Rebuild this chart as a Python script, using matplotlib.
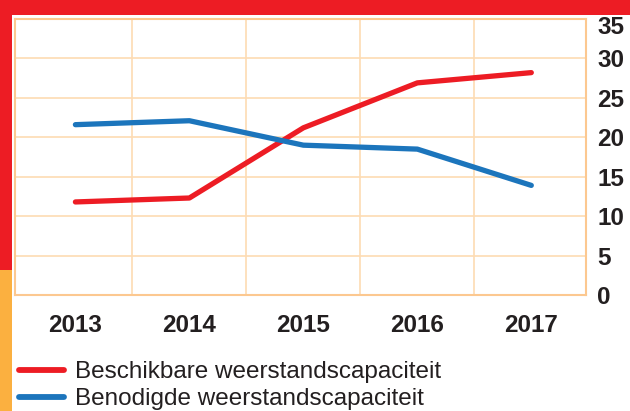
import matplotlib
matplotlib.use("Agg")
import matplotlib.pyplot as plt
from matplotlib.patches import Rectangle
from matplotlib.transforms import ScaledTranslation

years = ["2013", "2014", "2015", "2016", "2017"]
beschikbaar = [11.8, 12.3, 21.2, 26.9, 28.2]
benodigd = [21.6, 22.1, 19.0, 18.5, 13.9]
y_ticks = [0, 5, 10, 15, 20, 25, 30, 35]

RED = "#ED1C24"
BLUE = "#1C75BC"
ORANGE = "#FBB040"
GRID = "#FDDCB3"
TEXT = "#231F20"

plt.rcParams['font.family'] = ['Liberation Sans', 'DejaVu Sans']

fig = plt.figure(figsize=(6.3, 4.11), dpi=100)

# red band at the top and coloured bar on the left
fig.add_artist(Rectangle((0, 1 - 15 / 411), 1, 15 / 411, transform=fig.transFigure,
                         color=RED, lw=0, zorder=0))
fig.add_artist(Rectangle((0, 141 / 411), 12 / 630, 1 - 141 / 411, transform=fig.transFigure,
                         color=RED, lw=0, zorder=0))
fig.add_artist(Rectangle((0, 0), 12 / 630, 141 / 411, transform=fig.transFigure,
                         color=ORANGE, lw=0, zorder=0))

ax = fig.add_axes([15 / 630, 116 / 411, 571 / 630, 276 / 411])
x = list(range(len(years)))
ax.plot(x, beschikbaar, color=RED, lw=3.8, solid_capstyle='round',
        label="Beschikbare weerstandscapaciteit")
ax.plot(x, benodigd, color=BLUE, lw=3.8, solid_capstyle='round',
        label="Benodigde weerstandscapaciteit")

ax.set_xlim(-0.53, 4.48)
ax.set_ylim(0, 35)
ax.set_xticks(x)
ax.set_xticklabels(years, fontsize=17.5, fontweight='bold', color=TEXT)
ax.set_xticks([0.5, 1.5, 2.5, 3.5], minor=True)
ax.set_yticks(y_ticks)
ax.set_yticklabels([str(v) for v in y_ticks], fontsize=17.5, fontweight='bold', color=TEXT)
ax.yaxis.tick_right()
ax.tick_params(axis='x', which='both', length=0, pad=14)
ax.tick_params(axis='y', length=0, pad=8)

# top label sits a bit lower, clear of the red band
top_lbl = ax.get_yticklabels()[-1]
top_lbl.set_transform(top_lbl.get_transform() + ScaledTranslation(0, -6 / 100, fig.dpi_scale_trans))

ax.grid(True, axis='y', color=GRID, lw=1.2)
ax.grid(True, axis='x', which='minor', color=GRID, lw=1.2)
ax.set_axisbelow(True)
for s in ax.spines.values():
    s.set_color("#FCC890")
    s.set_linewidth(1.5)

ax.legend(loc='upper left', bbox_to_anchor=(19 / 630, 50 / 411), bbox_transform=fig.transFigure,
          frameon=False, fontsize=17.5, handlelength=1.85, handletextpad=0.45,
          labelspacing=0.22, borderaxespad=0, borderpad=0, labelcolor=TEXT)
for h in ax.get_legend().get_lines():
    h.set_linewidth(4.2)

fig.savefig("out.png", dpi=100)
